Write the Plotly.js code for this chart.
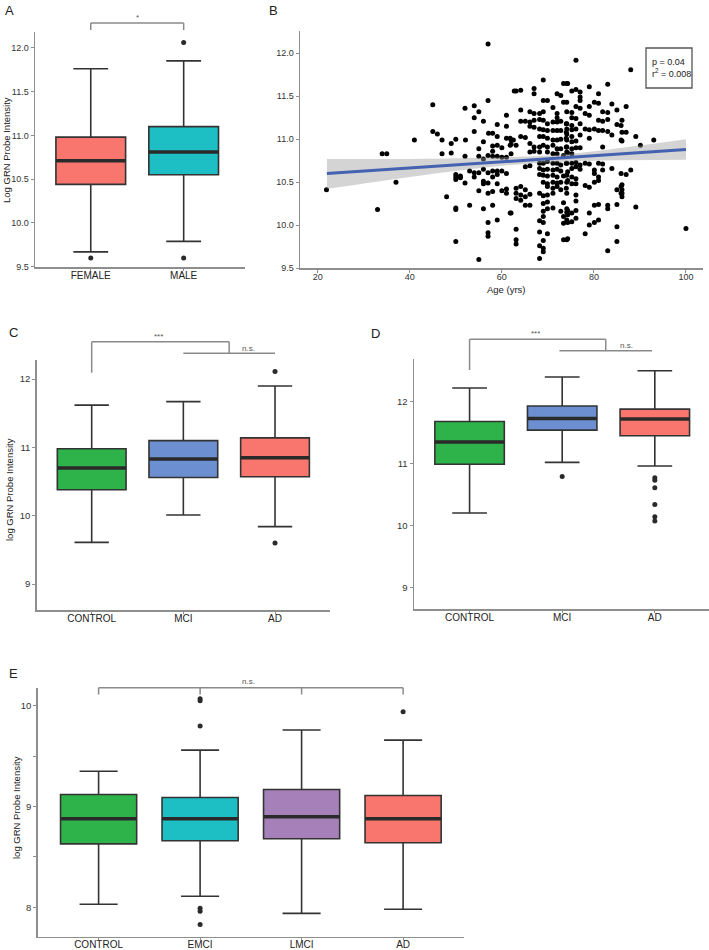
<!DOCTYPE html>
<html><head><meta charset="utf-8">
<script src="https://cdn.plot.ly/plotly-3.0.1.min.js"></script>
<style>html,body{margin:0;padding:0;background:#fff}#chart{width:709px;height:950px}</style>
</head><body><div id="chart"></div>
<script>
// ---------- Panel A : sex ----------
const sexCats = ['FEMALE', 'MALE'];
const sexQ1 = [10.44, 10.55];
const sexMed = [10.71, 10.81];
const sexQ3 = [10.98, 11.10];
const sexLo = [9.67, 9.79];
const sexHi = [11.76, 11.85];
const sexOutCat = ['FEMALE', 'MALE', 'MALE'];
const sexOutVal = [9.60, 12.06, 9.60];

// ---------- Panel B : age scatter ----------
const ageYrs = [21.9,33.0,34.0,35.0,37.0,41.0,45.0,45.0,46.0,47.0,47.0,48.0,
57.0,57.0,62.7,52.0,54.0,55.0,54.0,56.0,59.0,61.0,61.0,54.0,57.1,58.0,59.0,61.0,62.0,50.0,52.1,49.0,56.0,58.0,59.0,60.0,62.0,55.0,49.0,58.0,57.0,58.0,59.0,60.0,61.0,62.0,52.0,55.0,56.0,
50.0,50.0,51.0,51.0,50.0,52.0,53.0,54.0,54.0,55.0,56.0,57.0,58.0,58.0,59.0,59.0,60.0,61.0,56.0,56.0,57.0,59.0,55.0,57.0,58.0,60.0,61.0,61.0,50.0,50.0,53.0,56.0,58.0,62.0,57.0,59.0,57.0,57.0,50.0,55.0,
69.0,73.4,74.3,63.1,64.1,67.0,67.0,69.0,69.9,72.0,72.8,73.4,
64.1,66.1,67.0,68.2,69.0,71.1,72.0,72.0,
64.1,65.1,66.1,67.0,68.2,69.0,69.9,71.1,72.0,72.8,74.0,
66.1,67.0,68.2,69.0,69.9,71.1,72.0,72.8,74.0,
61.8,62.5,64.1,65.1,68.2,69.0,69.9,71.1,72.0,72.8,74.0,
61.8,63.1,66.1,67.0,68.2,69.0,69.9,71.1,72.0,72.8,74.0,
66.1,67.0,68.2,69.9,71.1,72.0,73.4,74.3,
68.2,69.0,69.9,71.1,72.0,72.8,74.0,
65.1,66.1,
68.2,69.0,69.9,71.1,72.0,72.8,74.3,
68.2,69.0,69.9,71.1,72.0,73.4,
69.0,69.9,71.1,72.0,72.8,74.3,
69.9,71.1,72.0,72.8,74.0,
63.1,64.1,65.1,
63.1,64.1,66.1,
68.2,69.0,69.9,71.1,
63.1,64.1,65.1,
69.0,69.9,73.4,
65.1,66.1,
69.9,71.1,72.8,74.3,
61.8,69.0,69.0,73.4,74.3,
69.0,68.2,73.4,74.3,
63.1,68.2,69.9,73.4,74.3,63.1,63.1,69.0,68.2,69.0,68.2,69.0,
76.1,83.0,74.1,75.2,76.1,77.0,79.0,81.0,77.0,77.0,80.1,81.0,74.1,76.1,77.0,79.0,83.9,85.0,74.1,75.2,78.1,79.0,81.9,83.0,75.2,76.1,81.0,81.9,83.0,85.0,85.9,74.1,75.2,77.0,74.1,75.2,76.1,78.1,79.0,80.1,81.0,81.9,83.0,74.1,75.2,77.0,79.0,83.9,85.9,74.1,75.2,76.1,74.1,75.2,76.1,77.0,74.1,75.2,81.9,
74.1,75.2,76.1,77.0,78.1,79.0,81.0,81.9,75.2,76.1,77.0,80.1,74.1,75.2,76.1,80.1,81.0,81.9,83.9,85.9,74.1,75.2,76.1,78.1,79.0,80.1,81.0,85.0,85.9,85.9,74.1,76.1,76.1,80.1,81.0,83.0,74.1,74.1,75.2,76.1,79.0,83.0,85.0,74.1,75.2,76.1,79.0,80.1,81.0,85.0,78.1,74.1,85.0,83.0,
88.0,87.0,86.1,86.1,87.0,86.1,89.1,93.0,90.1,87.0,88.0,86.1,86.1,86.1,86.1,89.1,100.0];
const grnB = [10.41,10.18,10.83,10.83,10.50,10.99,11.40,11.09,11.06,10.99,10.83,10.33,
12.11,11.45,11.56,11.36,11.39,11.32,11.25,11.21,11.17,11.28,11.15,11.09,11.07,11.07,11.03,11.01,10.99,11.00,10.99,10.95,10.97,10.92,10.93,10.90,10.94,10.89,10.84,10.86,10.81,10.80,10.80,10.79,10.79,10.83,10.80,10.80,10.77,
10.59,10.56,10.55,10.57,10.53,10.49,10.63,10.61,10.56,10.61,10.65,10.61,10.63,10.56,10.63,10.59,10.63,10.60,10.51,10.48,10.49,10.48,10.40,10.37,10.39,10.40,10.37,10.42,10.20,10.18,10.23,10.19,10.23,10.14,10.03,10.06,9.91,9.87,9.81,9.60,
11.69,11.65,11.65,11.56,11.57,11.59,11.53,11.45,11.45,11.53,11.51,11.43,
11.34,11.32,11.30,11.30,11.32,11.37,11.30,11.25,
11.21,11.21,11.20,11.22,11.23,11.22,11.18,11.20,11.20,11.21,11.18,
11.15,11.14,11.12,11.11,11.10,11.10,11.10,11.10,11.08,
11.01,10.99,11.03,11.02,11.03,11.03,11.01,10.99,10.99,11.00,11.01,
10.93,10.93,10.95,10.91,10.91,10.93,10.91,10.93,10.89,10.89,10.91,
10.85,10.86,10.85,10.85,10.83,10.83,10.81,10.84,
10.72,10.72,10.74,10.72,10.72,10.70,10.72,
10.68,10.69,
10.66,10.64,10.65,10.64,10.65,10.63,10.62,
10.59,10.58,10.57,10.58,10.56,10.57,
10.50,10.48,10.50,10.49,10.50,10.52,
10.45,10.43,10.45,10.41,10.43,
10.43,10.45,10.41,
10.37,10.35,10.36,
10.37,10.34,10.35,10.37,
10.31,10.29,10.33,
10.25,10.27,10.26,
10.23,10.23,
10.19,10.20,10.16,10.17,
10.14,10.16,10.10,10.10,10.12,
10.03,10.05,10.02,10.03,
9.95,9.92,9.90,9.83,9.84,9.83,9.78,9.82,9.76,9.73,9.61,9.69,
11.92,11.64,11.65,11.56,11.58,11.55,11.61,11.53,11.49,11.45,11.43,11.42,11.43,11.38,11.36,11.38,11.41,11.34,11.32,11.31,11.30,11.28,11.32,11.31,11.25,11.24,11.22,11.21,11.23,11.17,11.16,11.18,11.16,11.18,11.12,11.11,11.12,11.12,11.11,11.12,11.10,11.10,11.09,11.06,11.03,11.05,11.01,11.05,10.99,10.99,10.97,10.98,10.91,10.89,10.90,10.90,10.85,10.83,10.91,
10.72,10.72,10.73,10.70,10.72,10.71,10.72,10.71,10.66,10.68,10.65,10.64,10.58,10.56,10.54,10.60,10.56,10.64,10.66,10.60,10.50,10.48,10.48,10.46,10.44,10.50,10.52,10.41,10.45,10.37,10.37,10.35,10.28,10.23,10.24,10.23,10.19,10.15,10.14,10.17,10.14,10.19,10.24,10.06,10.04,10.08,10.00,10.03,10.06,9.98,9.90,9.83,9.81,9.70,
11.81,11.38,11.22,11.08,11.08,10.98,11.03,10.99,10.93,10.59,10.64,10.47,10.41,10.37,10.33,10.21,9.96];
const fitAge = [22, 40, 60, 70, 80, 100];
const fitVal = [10.60, 10.665, 10.737, 10.772, 10.808, 10.88];
const ciLow  = [10.42, 10.56, 10.69, 10.73, 10.75, 10.76];
const ciHigh = [10.77, 10.77, 10.79, 10.81, 10.86, 11.00];
const statText = 'p = 0.04<br>r<sup>2</sup> = 0.008';

// ---------- Panel C ----------
const dxCats = ['CONTROL', 'MCI', 'AD'];
const cQ1 = [10.38, 10.56, 10.57];
const cMed = [10.70, 10.83, 10.85];
const cQ3 = [10.98, 11.10, 11.14];
const cLo = [9.61, 10.01, 9.84];
const cHi = [11.62, 11.67, 11.90];
const cOutCat = ['AD', 'AD'];
const cOutVal = [12.11, 9.60];

// ---------- Panel D ----------
const dQ1 = [10.99, 11.54, 11.45];
const dMed = [11.35, 11.73, 11.72];
const dQ3 = [11.68, 11.93, 11.88];
const dLo = [10.20, 11.02, 10.96];
const dHi = [12.22, 12.40, 12.50];
const dOutCat = ['MCI', 'AD', 'AD', 'AD', 'AD', 'AD', 'AD'];
const dOutVal = [10.79, 10.77, 10.73, 10.61, 10.34, 10.14, 10.07];

// ---------- Panel E ----------
const eCats = ['CONTROL', 'EMCI', 'LMCI', 'AD'];
const eQ1 = [8.63, 8.66, 8.68, 8.64];
const eMed = [8.88, 8.88, 8.90, 8.88];
const eQ3 = [9.12, 9.09, 9.17, 9.11];
const eLo = [8.03, 8.11, 7.94, 7.98];
const eHi = [9.35, 9.56, 9.76, 9.66];
const eOutCat = ['EMCI', 'EMCI', 'EMCI', 'EMCI', 'EMCI', 'EMCI', 'AD'];
const eOutVal = [10.07, 10.05, 9.80, 7.99, 7.96, 7.83, 9.94];

// ---------- styling ----------
const RED = '#F8766D', TEAL = '#1DBFC4', GREEN = '#2DB34A', BLUE = '#6B8FD0', PURPLE = '#A680B8';
const FONT = 'Liberation Sans, Arial, sans-serif';
const AXC = '#8e8e8e';
const BOXLINE = '#333333';
const SIG = '#8a8a8a';

const traces = [];
const shapes = [];
const annotations = [];

function addBoxes(cats, q1, med, q3, lo, hi, colors, xa, ya) {
  cats.forEach((c, i) => {
    traces.push({
      type: 'box', x: [c], q1: [q1[i]], median: [med[i]], q3: [q3[i]],
      lowerfence: [lo[i]], upperfence: [hi[i]],
      fillcolor: colors[i], line: {color: BOXLINE, width: 1.6},
      width: 0.75, xaxis: xa, yaxis: ya, hoverinfo: 'skip', showlegend: false
    });
    shapes.push({type: 'line', xref: xa, yref: ya, x0: i - 0.375, x1: i + 0.375,
      y0: med[i], y1: med[i], line: {color: '#2a2a2a', width: 3.5}});
  });
}
function addOutliers(cats, vals, xa, ya) {
  traces.push({type: 'scatter', mode: 'markers', x: cats, y: vals, xaxis: xa, yaxis: ya,
    marker: {color: '#2a2a2a', size: 5}, hoverinfo: 'skip', showlegend: false});
}
const py = p => 1 - p / 950;
function seg(xa, x0, y0, x1, y1) {
  shapes.push({type: 'line', xref: xa, yref: 'paper', x0: x0, x1: x1, y0: py(y0), y1: py(y1),
    line: {color: SIG, width: 1.5}});
}
function sigText(xa, x, yPix, text) {
  annotations.push({xref: xa, yref: 'paper', x: x, y: py(yPix), text: text, showarrow: false,
    font: {family: FONT, size: 8, color: '#555'}, xanchor: 'center', yanchor: 'middle'});
}
function paperText(xPix, yPix, text, size, opts) {
  annotations.push(Object.assign({xref: 'paper', yref: 'paper', x: xPix / 709, y: py(yPix),
    text: text, showarrow: false, font: {family: FONT, size: size, color: '#222'},
    xanchor: 'center', yanchor: 'middle'}, opts || {}));
}

// A
addBoxes(sexCats, sexQ1, sexMed, sexQ3, sexLo, sexHi, [RED, TEAL], 'x', 'y');
addOutliers(sexOutCat, sexOutVal, 'x', 'y');
seg('x', 0, 30, 0, 23); seg('x', 0, 23, 1, 23); seg('x', 1, 23, 1, 30);
sigText('x', 0.5, 18, '*');

// B
traces.push({type: 'scatter', mode: 'markers', x: ageYrs, y: grnB, xaxis: 'x2', yaxis: 'y2',
  marker: {color: '#000', size: 5}, hoverinfo: 'skip', showlegend: false});
traces.push({type: 'scatter', mode: 'lines', x: fitAge, y: ciLow, xaxis: 'x2', yaxis: 'y2',
  line: {width: 0, color: 'rgba(0,0,0,0)', shape: 'spline'}, hoverinfo: 'skip', showlegend: false});
traces.push({type: 'scatter', mode: 'lines', x: fitAge, y: ciHigh, xaxis: 'x2', yaxis: 'y2',
  fill: 'tonexty', fillcolor: 'rgba(153,153,153,0.42)', line: {width: 0, color: 'rgba(0,0,0,0)', shape: 'spline'},
  hoverinfo: 'skip', showlegend: false});
traces.push({type: 'scatter', mode: 'lines', x: fitAge, y: fitVal, xaxis: 'x2', yaxis: 'y2',
  line: {color: '#4462B0', width: 3}, hoverinfo: 'skip', showlegend: false});
shapes.push({type: 'rect', xref: 'paper', yref: 'paper', x0: 646 / 709, x1: 692 / 709, y0: py(88), y1: py(48),
  line: {color: '#555', width: 1.3}});
paperText(650, 68, statText, 9, {xanchor: 'left', align: 'left', font: {family: FONT, size: 9, color: '#222'}});
paperText(506, 289, 'Age (yrs)', 9.5);

// C
addBoxes(dxCats, cQ1, cMed, cQ3, cLo, cHi, [GREEN, BLUE, RED], 'x3', 'y3');
addOutliers(cOutCat, cOutVal, 'x3', 'y3');
seg('x3', 0, 372.7, 0, 341.7); seg('x3', 0, 341.7, 1.5, 341.7); seg('x3', 1.5, 341.7, 1.5, 353.3);
seg('x3', 1, 353.3, 2, 353.3);
sigText('x3', 0.73, 336.5, '***'); sigText('x3', 1.71, 348.5, 'n.s.');

// D
addBoxes(dxCats, dQ1, dMed, dQ3, dLo, dHi, [GREEN, BLUE, RED], 'x4', 'y4');
addOutliers(dOutCat, dOutVal, 'x4', 'y4');
seg('x4', 0, 370, 0, 339.3); seg('x4', 0, 339.3, 1.47, 339.3); seg('x4', 1.47, 339.3, 1.47, 350.7);
seg('x4', 0.97, 350.7, 1.97, 350.7);
sigText('x4', 0.71, 333.5, '***'); sigText('x4', 1.69, 345.5, 'n.s.');

// E
addBoxes(eCats, eQ1, eMed, eQ3, eLo, eHi, [GREEN, TEAL, PURPLE, RED], 'x5', 'y5');
addOutliers(eOutCat, eOutVal, 'x5', 'y5');
seg('x5', 0, 687.7, 3, 687.7);
[0, 1, 2, 3].forEach(i => seg('x5', i, 687.7, i, 694.5));
sigText('x5', 1.48, 681.5, 'n.s.');

// panel letters & y titles
paperText(9, 11, 'A', 13);
paperText(273, 10, 'B', 13);
paperText(13, 332, 'C', 13);
paperText(376, 333, 'D', 13);
paperText(13, 673, 'E', 13);
paperText(6, 150, 'Log GRN Probe Intensity', 9.5, {textangle: -90});
paperText(9, 490, 'log GRN Probe Intensity', 9.5, {textangle: -90});
paperText(16, 808, 'log GRN Probe Intensity', 9.5, {textangle: -90});

const axBase = {showline: true, linecolor: AXC, linewidth: 1.5, ticks: 'outside', ticklen: 3,
  tickcolor: AXC, tickwidth: 1, showgrid: false, zeroline: false, fixedrange: true,
  tickfont: {family: FONT, size: 9, color: '#333'}};
const catAx = Object.assign({}, axBase, {tickfont: {family: FONT, size: 10, color: '#222'},
  type: 'category', ticklen: 2, ticklabelstandoff: -4});
const ax = (o, b) => Object.assign({}, b || axBase, o);

const layout = {
  width: 709, height: 950, margin: {l: 0, r: 0, t: 0, b: 0},
  paper_bgcolor: '#fff', plot_bgcolor: 'rgba(0,0,0,0)',
  showlegend: false, boxmode: 'overlay',
  font: {family: FONT},
  xaxis: ax({domain: [35 / 709, 245 / 709], range: [-0.6, 1.66], anchor: 'y',
    categoryorder: 'array', categoryarray: sexCats}, catAx),
  yaxis: ax({domain: [py(267), py(32)], range: [9.497, 12.18], anchor: 'x',
    tickvals: [9.5, 10, 10.5, 11, 11.5, 12], tickformat: '.1f'}),
  xaxis2: ax({domain: [300 / 709, 703 / 709], range: [16.15, 103.7], anchor: 'y2',
    tickvals: [20, 40, 60, 80, 100], ticklabelstandoff: -3}),
  yaxis2: ax({domain: [py(268), py(31)], range: [9.5, 12.26], anchor: 'x2',
    tickvals: [9.5, 10, 10.5, 11, 11.5, 12], tickformat: '.1f'}),
  xaxis3: ax({domain: [36.7 / 709, 330 / 709], range: [-0.6, 2.6], anchor: 'y3',
    categoryorder: 'array', categoryarray: dxCats}, catAx),
  yaxis3: ax({domain: [py(610), py(360)], range: [8.62, 12.28], anchor: 'x3',
    tickvals: [9, 10, 11, 12], tickfont: {family: FONT, size: 9.5, color: '#333'}}),
  xaxis4: ax({domain: [414 / 709, 1], range: [-0.6, 2.585], anchor: 'y4',
    categoryorder: 'array', categoryarray: dxCats}, catAx),
  yaxis4: ax({domain: [py(609.3), py(359.3)], range: [8.645, 12.685], anchor: 'x4',
    tickvals: [9, 10, 11, 12], tickfont: {family: FONT, size: 9.5, color: '#333'}}),
  xaxis5: ax({domain: [37.7 / 709, 464 / 709], range: [-0.6, 3.6], anchor: 'y5',
    categoryorder: 'array', categoryarray: eCats}, catAx),
  yaxis5: ax({domain: [py(936.7), py(687.7)], range: [7.708, 10.18], anchor: 'x5',
    tickvals: [8, 9, 10], minor: {tickvals: [8.5, 9.5], ticks: 'outside', ticklen: 3, tickcolor: AXC},
    tickfont: {family: FONT, size: 9.5, color: '#333'}}),
  shapes: shapes,
  annotations: annotations
};

Plotly.newPlot('chart', traces, layout, {displayModeBar: false, staticPlot: true});
</script></body></html>
